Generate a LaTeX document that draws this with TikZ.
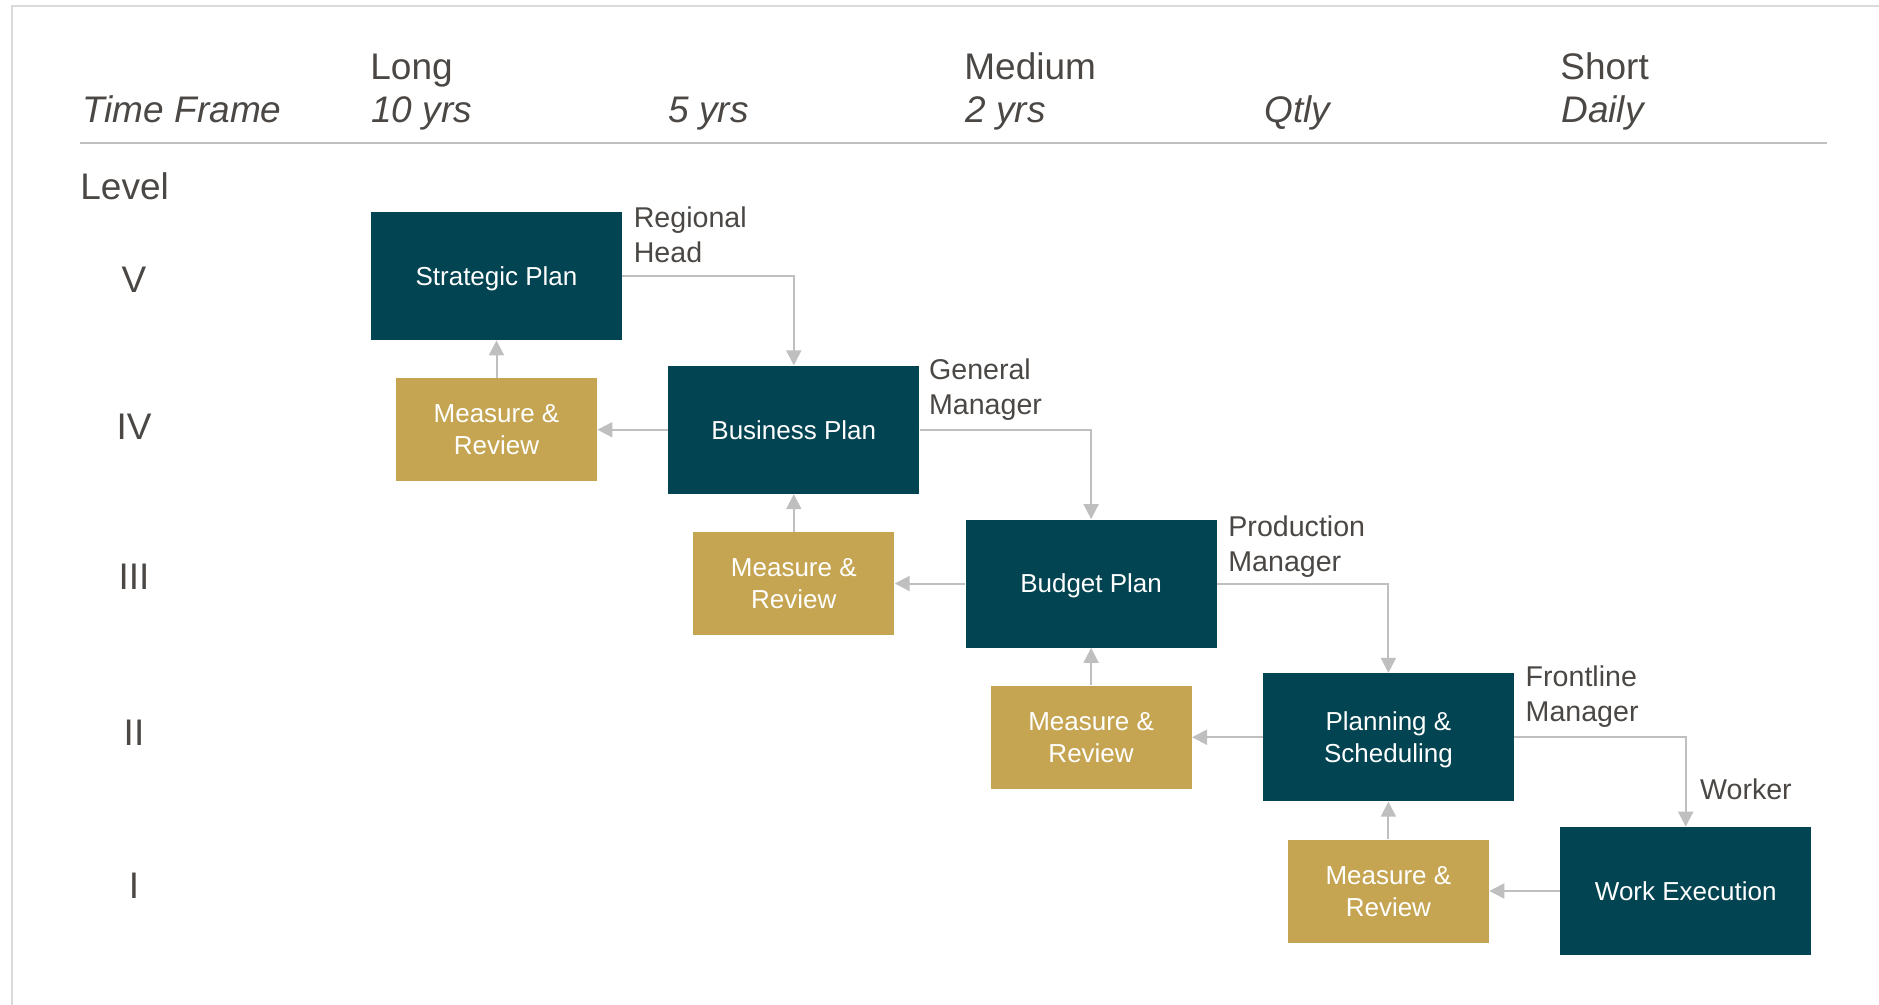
\documentclass[tikz,border=0pt]{standalone}
\usepackage{fontspec}
\setmainfont{Liberation Sans}
\usepackage{tikz}
\usetikzlibrary{arrows.meta,calc,positioning}
\definecolor{planteal}{HTML}{024452}
\definecolor{reviewgold}{HTML}{C5A552}
\definecolor{textgray}{HTML}{4A4744}
\definecolor{linegray}{HTML}{BFBFBF}
\definecolor{framegray}{HTML}{DADADA}

\begin{document}
\begin{tikzpicture}[x=0.5pt, y=-0.5pt,
    plan/.style={fill=planteal, text=white, minimum width=125.5pt, minimum height=64pt,
      align=center, inner sep=0pt, text depth=0pt, font=\fontsize{13}{16}\selectfont},
    review/.style={fill=reviewgold, text=white, minimum width=100.5pt, minimum height=51.5pt,
      align=center, inner sep=0pt, text depth=0pt, font=\fontsize{13}{16}\selectfont},
    role/.style={text=textgray, align=left, inner sep=0pt, font=\fontsize{14.3}{17.5}\selectfont},
    head/.style={text=textgray, inner sep=0pt, anchor=base west, font=\fontsize{18.5}{22}\selectfont},
    conn/.style={draw=linegray, line width=1pt, -{Triangle[length=7.5pt,width=7.5pt]}}]
      \useasboundingbox (0,0) rectangle (1879,1005);
      % frame and header rule
      \draw[framegray, line width=1pt] (12,1005) -- (12,6) -- (1879,6);
      \draw[linegray, line width=1pt] (80,143) -- (1827,143);
      % time frame header
      \node[head] (tf) at (82,123) {\itshape Time Frame};
      \node[head] (long) at (370,79.5) {Long};
      \node[head] (y10) at (371,123) {\itshape 10 yrs};
      \node[head] (y5) at (668,123) {\itshape 5 yrs};
      \node[head] (medium) at (964,79.5) {Medium};
      \node[head] (y2) at (965,123) {\itshape 2 yrs};
      \node[head] (qtly) at (1264,123) {\itshape Qtly};
      \node[head] (short) at (1560,79.5) {Short};
      \node[head] (daily) at (1561,123) {\itshape Daily};
      \node[head] (level) at (80,200) {Level};
      % levels
      \foreach \i/\lvl/\ly in {1/V/280, 2/IV/427, 3/III/577, 4/II/733, 5/I/886} {
          \node[head, anchor=center] (lvl\i) at (134,\ly) {\lvl};
        }
      % plan boxes along the diagonal
      \foreach \i/\txt in {1/Strategic Plan, 2/Business Plan, 3/Budget Plan, 4/Planning \&\\Scheduling, 5/Work Execution} {
          \node[plan] (plan\i) at ({496.5+(\i-1)*297.3}, {276+(\i-1)*153.75}) {\txt};
        }
      % review boxes and connecting arrows
      \foreach \i in {1,...,4} {
          \pgfmathtruncatemacro{\j}{\i+1}
          \node[review] (review\i) at (plan\i |- plan\j) {Measure \&\\Review};
          \draw[conn] (plan\i.east) -| (plan\j.north);
          \draw[conn] (plan\j.west) -- (review\i.east);
          \draw[conn] (review\i.north) -- (plan\i.south);
        }
      % roles
      \foreach \i/\txt/\dx/\dy in {1/Regional\\Head/11/-5, 2/General\\Manager/9/-7, 3/Production\\Manager/11/-4, 4/Frontline\\Manager/11/-7} {
          \node[role, anchor=north west] (role\i) at ($(plan\i.north east)+(\dx,\dy)$) {\txt};
        }
      \node[role, anchor=south west] (role5) at ($(plan5.north)+(14,-26)$) {Worker};
    \end{tikzpicture}
\end{document}
